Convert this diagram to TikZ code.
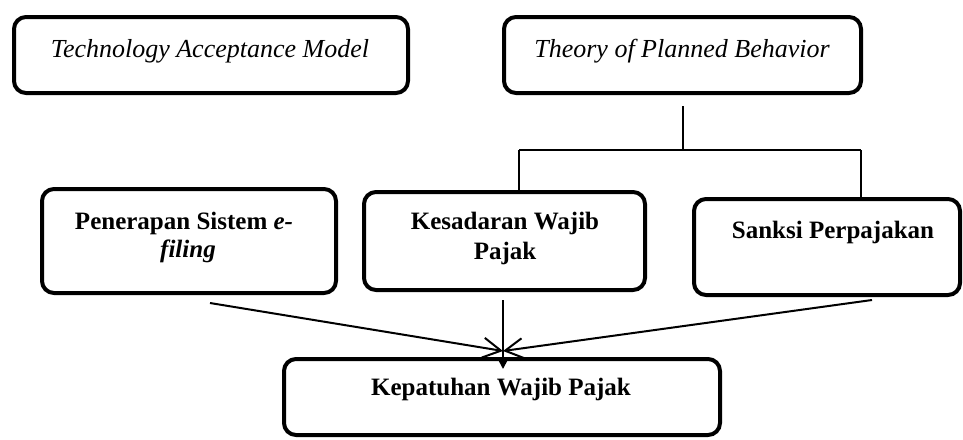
\documentclass[tikz,border=0pt]{standalone}
\usepackage{fontspec}
\setmainfont{Liberation Serif}
\usetikzlibrary{arrows.meta,calc}
\begin{document}
\begin{tikzpicture}[x=1pt,y=-1pt,
  box/.style={draw,line width=4pt,rounded corners=12pt,inner sep=0pt,outer sep=0pt},
  ttl/.style={anchor=base,inner sep=0pt,font=\fontsize{26}{30}\selectfont\itshape},
  lbl/.style={anchor=base,inner sep=0pt,font=\fontsize{25}{30}\selectfont\bfseries},
  conn/.style={line width=2pt},
  openarr/.style={line width=2pt,-{Straight Barb[length=18pt,width=20pt,line width=2pt]}},
  filarr/.style={line width=2pt,-{Triangle[length=10pt,width=10pt]}}
]
\useasboundingbox (0,0) rectangle (963,439);
% boxes
\node[box,minimum width=394pt,minimum height=76pt] (tam) at (211,55) {};
\node[box,minimum width=357pt,minimum height=76pt] (tpb) at (682.5,55) {};
\node[box,minimum width=294pt,minimum height=104pt] (pen) at (189,241) {};
\node[box,minimum width=281pt,minimum height=98pt] (kes) at (504.5,241) {};
\node[box,minimum width=266pt,minimum height=96pt] (san) at (827,247) {};
\node[box,minimum width=436pt,minimum height=76pt] (kep) at (502,397) {};
% texts
\node[ttl] (tamt) at (210,57) {Technology Acceptance Model};
\node[ttl] (tpbt) at (682,57) {Theory of Planned Behavior};
\node[lbl] (pent1) at (184,229) {Penerapan Sistem \textit{e-}};
\node[lbl] (pent2) at (188,257) {\textit{filing}};
\node[lbl] (kest1) at (505,229) {Kesadaran Wajib};
\node[lbl] (kest2) at (505,259) {Pajak};
\node[lbl] (sant) at (833,238) {Sanksi Perpajakan};
\node[lbl] (kept) at (501,395) {Kepatuhan Wajib Pajak};
% connectors
\draw[conn] ($(tam.south)+(8,5)$) -- ($(tam.south)+(8,5)$ |- pen.north);
\coordinate (bus) at ($(tpb.south)+(0.5,57)$);
\draw[conn] ($(tpb.south)+(0.5,13)$) -- (bus);
\coordinate (bl) at ($(bus -| kes.north)+(14.5,0)$);
\coordinate (br) at ($(bus -| san.north)+(34,0)$);
\draw[conn] (bl) -- (br);
\draw[conn] (bl) -- (bl |- kes.north);
\draw[conn] (br) -- (br |- san.north);
\coordinate (tip) at ($(kep.north)+(1,-8)$);
\draw[openarr] ($(pen.south)+(21,10)$) -- (tip);
\draw[openarr] ($(san.south)+(45,5)$) -- (tip);
\draw[filarr] ($(kes.south)+(-1.5,10)$) -- ($(kep.north)+(1,10)$);
\end{tikzpicture}
\end{document}
